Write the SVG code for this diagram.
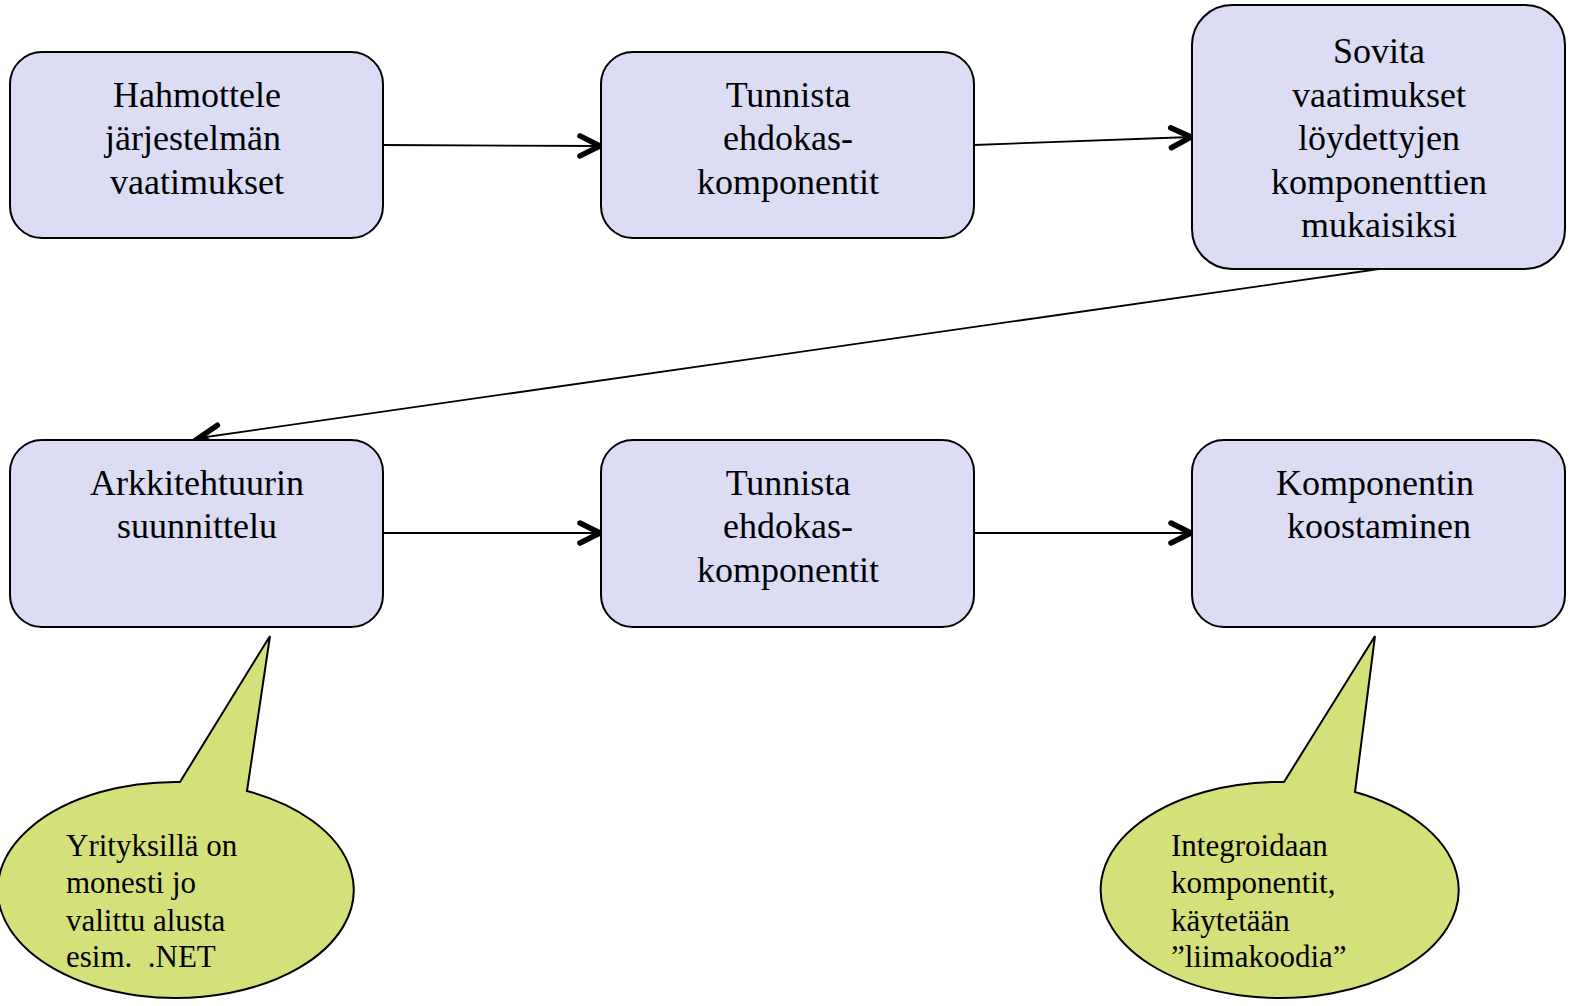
<svg xmlns="http://www.w3.org/2000/svg" width="1573" height="1006" viewBox="0 0 1573 1006">
  <style>
    .box { fill: #DCDCF5; stroke: #000; stroke-width: 2; }
    .note { fill: #D4E17A; stroke: #000; stroke-width: 2; stroke-linejoin: miter; }
    .t { font-family: "Liberation Serif", "Times New Roman", serif; font-size: 36px; fill: #000; text-anchor: middle; }
    .n { font-family: "Liberation Serif", "Times New Roman", serif; font-size: 31px; fill: #000; }
    .edge { stroke: #000; stroke-width: 1.8; fill: none; marker-end: url(#arrow); }
  </style>
  <defs>
    <marker id="arrow" markerUnits="userSpaceOnUse" markerWidth="32" markerHeight="32" refX="24" refY="16" orient="auto" viewBox="0 0 32 32">
      <polyline points="4,6 24,16 4,26" fill="none" stroke="#000" stroke-width="5.5" stroke-linecap="round" stroke-linejoin="miter"/>
    </marker>
  </defs>
  <rect width="1573" height="1006" fill="#fff"/>

  <g id="edges">
    <line class="edge" x1="383" y1="145" x2="600" y2="146"/>
    <line class="edge" x1="974" y1="145" x2="1191" y2="137"/>
    <line class="edge" x1="1379" y1="269" x2="199" y2="438"/>
    <line class="edge" x1="383" y1="533" x2="600" y2="533"/>
    <line class="edge" x1="974" y1="533" x2="1191" y2="533"/>
  </g>

  <g id="n1">
    <rect class="box" x="10" y="52" width="373" height="186" rx="32"/>
    <text class="t"><tspan x="197" y="107">Hahmottele</tspan><tspan x="193" y="150">järjestelmän</tspan><tspan x="197" y="194">vaatimukset</tspan></text>
  </g>
  <g id="n2">
    <rect class="box" x="601" y="52" width="373" height="186" rx="32"/>
    <text class="t"><tspan x="788" y="107">Tunnista</tspan><tspan x="788" y="150">ehdokas-</tspan><tspan x="788" y="194">komponentit</tspan></text>
  </g>
  <g id="n3">
    <rect class="box" x="1192" y="5" width="373" height="264" rx="40"/>
    <text class="t"><tspan x="1379" y="63">Sovita</tspan><tspan x="1379" y="107">vaatimukset</tspan><tspan x="1379" y="150">löydettyjen</tspan><tspan x="1379" y="194">komponenttien</tspan><tspan x="1379" y="237">mukaisiksi</tspan></text>
  </g>
  <g id="n4">
    <rect class="box" x="10" y="440" width="373" height="187" rx="32"/>
    <text class="t"><tspan x="197" y="495">Arkkitehtuurin</tspan><tspan x="197" y="538">suunnittelu</tspan></text>
  </g>
  <g id="n5">
    <rect class="box" x="601" y="440" width="373" height="187" rx="32"/>
    <text class="t"><tspan x="788" y="495">Tunnista</tspan><tspan x="788" y="538">ehdokas-</tspan><tspan x="788" y="582">komponentit</tspan></text>
  </g>
  <g id="n6">
    <rect class="box" x="1192" y="440" width="373" height="187" rx="32"/>
    <text class="t"><tspan x="1375" y="495">Komponentin</tspan><tspan x="1379" y="538">koostaminen</tspan></text>
  </g>

  <g id="callout-left">
    <path class="note" d="M180,782 L270,636 L247,791 A178,108 0 1 1 180,782 Z"/>
    <text class="n"><tspan x="66" y="856">Yrityksillä on</tspan><tspan x="66" y="893">monesti jo</tspan><tspan x="66" y="931">valittu alusta</tspan><tspan x="66" y="967" xml:space="preserve">esim.  .NET</tspan></text>
  </g>
  <g id="callout-right">
    <path class="note" d="M1284,782 L1375,636 L1355,792 A179,108 0 1 1 1284,782 Z"/>
    <text class="n"><tspan x="1171" y="856">Integroidaan</tspan><tspan x="1171" y="893">komponentit,</tspan><tspan x="1171" y="931">käytetään</tspan><tspan x="1171" y="967">”liimakoodia”</tspan></text>
  </g>
</svg>
